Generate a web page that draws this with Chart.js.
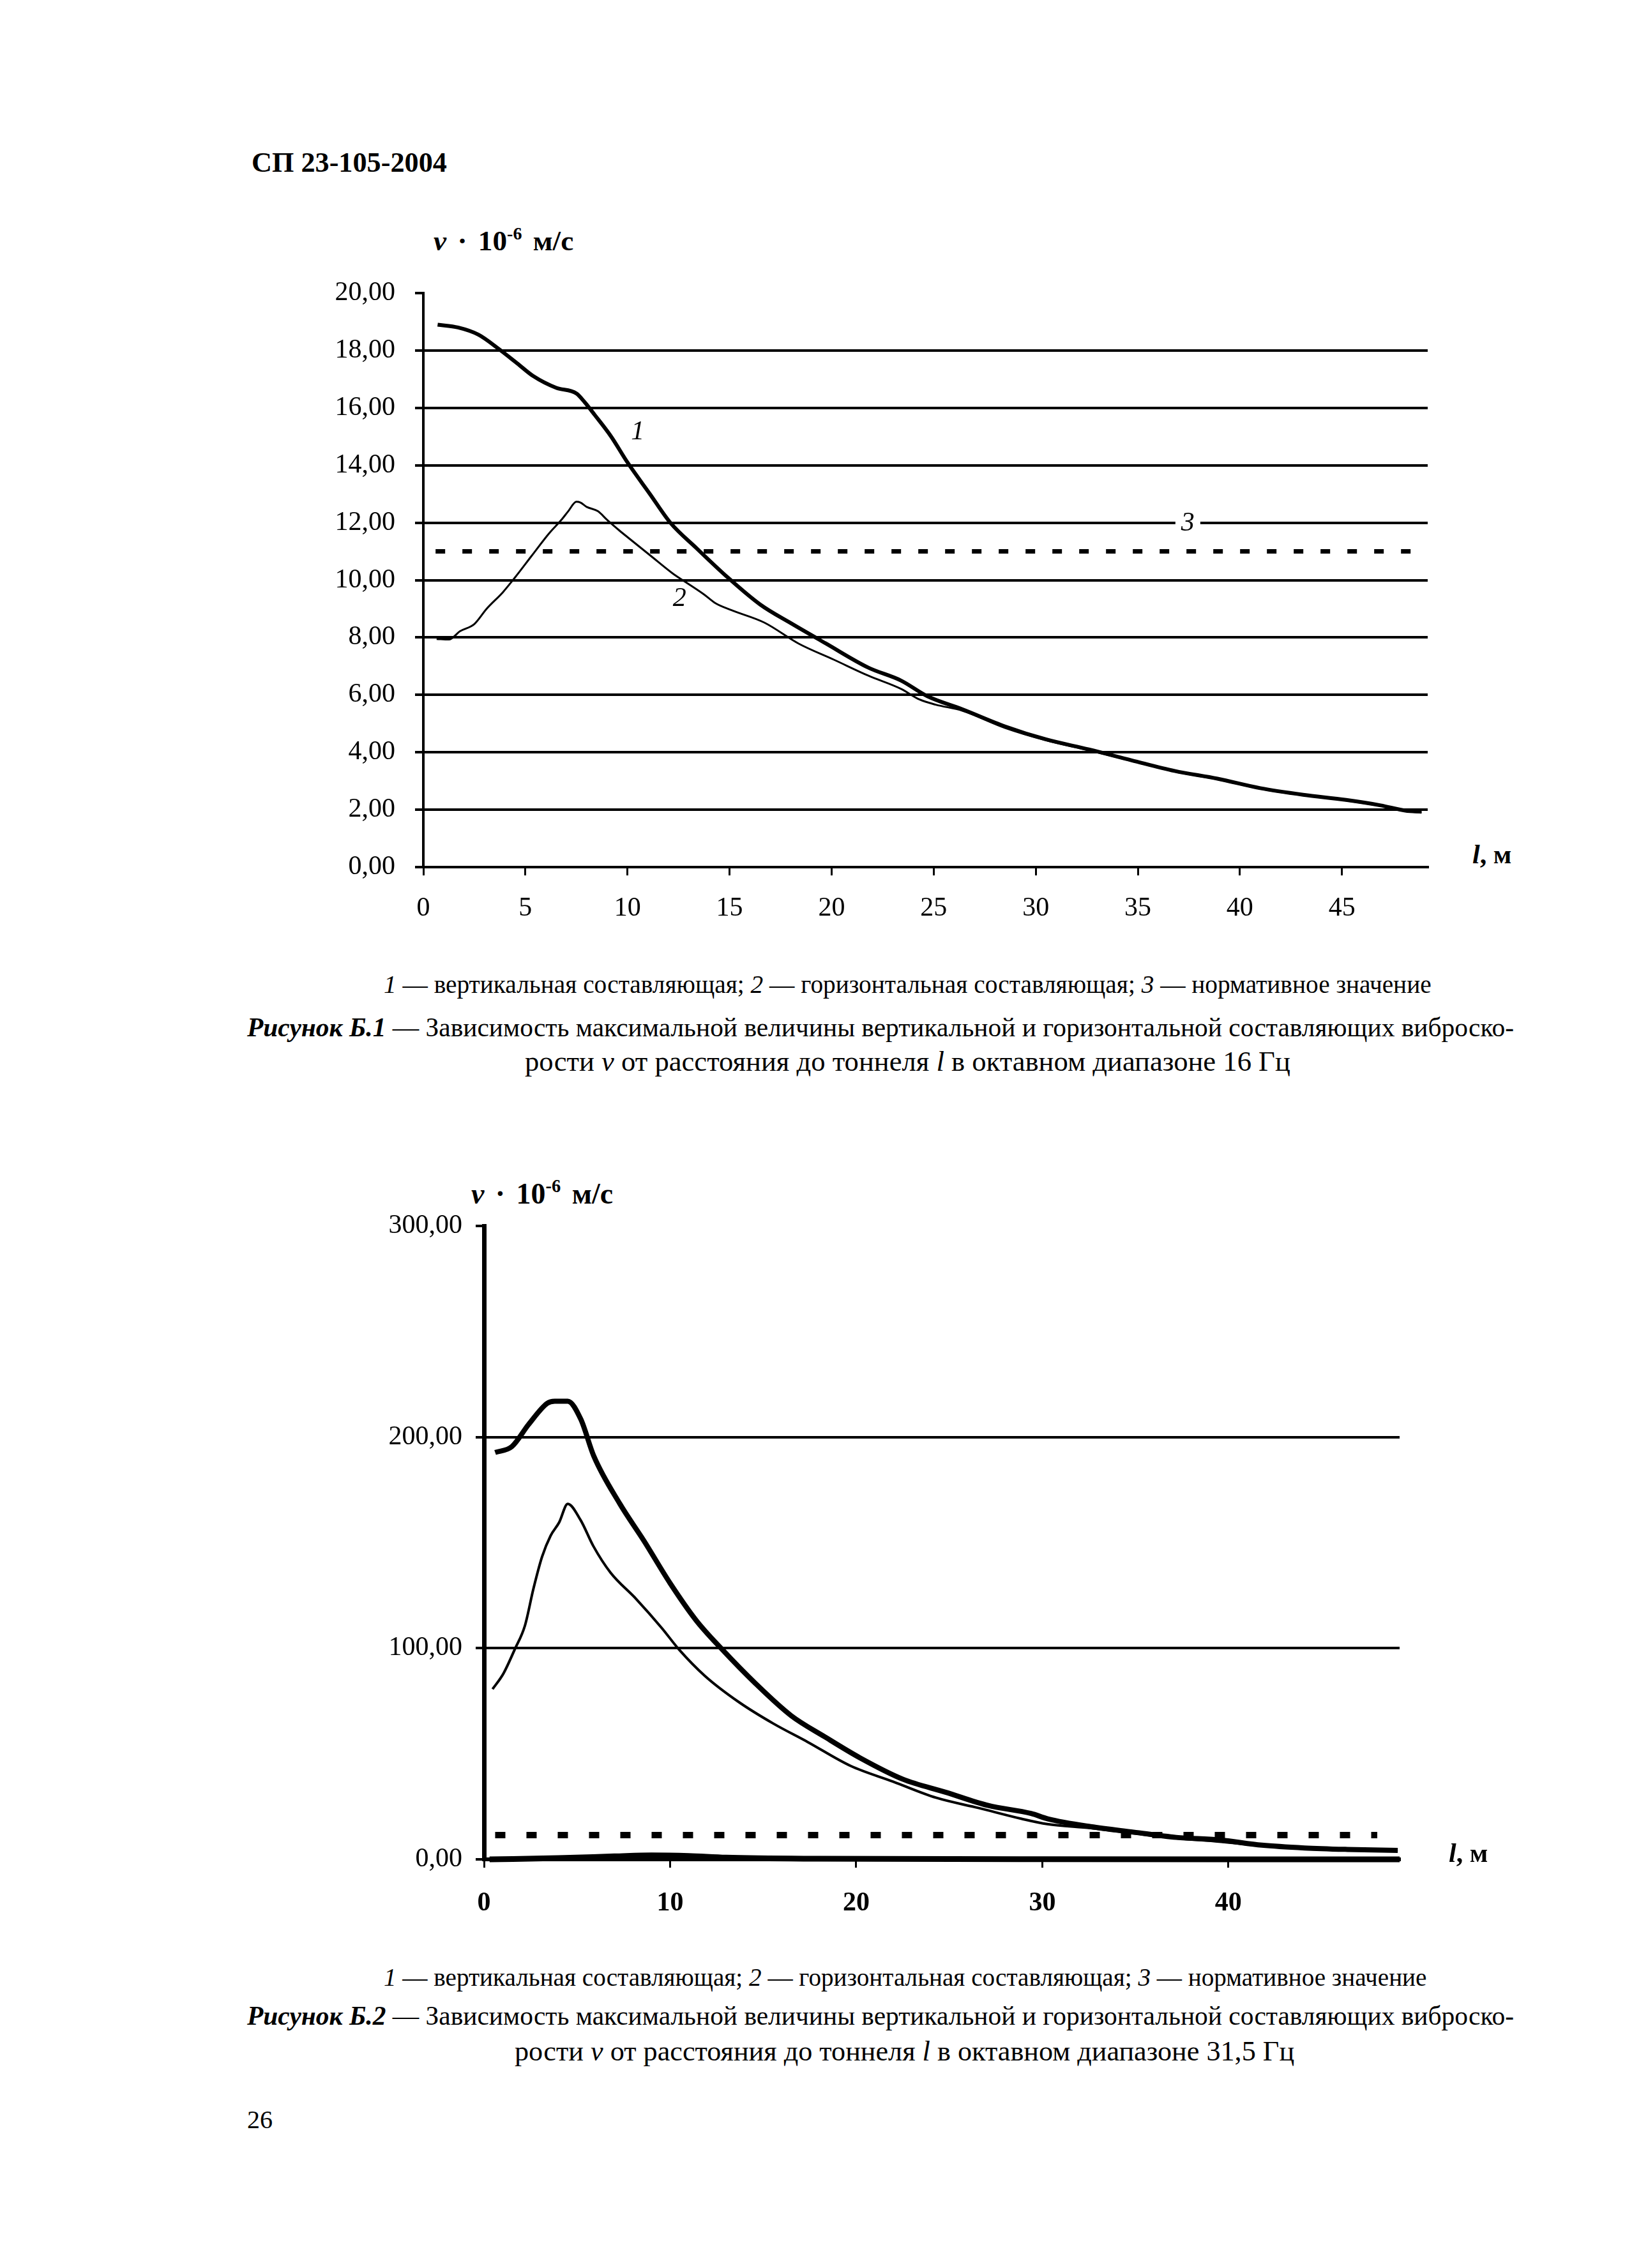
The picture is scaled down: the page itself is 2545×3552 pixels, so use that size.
<!DOCTYPE html>
<html lang="ru">
<head>
<meta charset="utf-8">
<title>СП 23-105-2004 — Рисунки Б.1 и Б.2</title>
<script src="https://cdn.jsdelivr.net/npm/chart.js@4.4.1/dist/chart.umd.min.js"></script>
<style>
    html, body { margin: 0; padding: 0; background: #fff; }
    body {
        width: 2545px; height: 3552px; position: relative; overflow: hidden;
        font-family: 'Liberation Serif', 'Times New Roman', serif; color: #000;
    }
    .t {
        position: absolute; white-space: nowrap; line-height: 1; transform: translateY(-50%);
        font-family: 'Liberation Serif', 'Times New Roman', serif;
    }
    .b { font-weight: bold; }
    .box { position: absolute; }
    sup { font-size: 0.62em; vertical-align: 0.62em; line-height: 0; }
</style>
</head>
<body>

<div class="t b" data-w="306" style="left:394px; top:255px; font-size:45px;">СП 23-105-2004</div>

<!-- Рисунок Б.1 -->
<div class="t b" data-w="219" style="left:679px; top:378px; font-size:46px; word-spacing:6px;"><i>v</i> · 10<sup>-6</sup> м/с</div>
<div class="box" style="left:400px; top:400px; width:1900px; height:1100px;">
    <canvas id="fig1" width="1900" height="1100" style="width:1900px; height:1100px;"></canvas>
</div>
<div class="t b" style="left:2306px; top:1338px; font-size:42px;"><i>l</i>, м</div>
<div class="t" data-w="1641" style="left:601px; top:1543px; font-size:38px;"><i>1</i> — вертикальная составляющая; <i>2</i> — горизонтальная составляющая; <i>3</i> — нормативное значение</div>
<div class="t" data-w="1984" style="left:387px; top:1610px; font-size:44px;"><b><i>Рисунок Б.1</i></b> — Зависимость максимальной величины вертикальной и горизонтальной составляющих виброско-</div>
<div class="t" data-w="1199" style="left:822px; top:1662px; font-size:44px;">рости <i>v</i> от расстояния до тоннеля <i>l</i> в октавном диапазоне 16 Гц</div>

<!-- Рисунок Б.2 -->
<div class="t b" data-w="222" style="left:738px; top:1870px; font-size:46px; word-spacing:6px;"><i>v</i> · 10<sup>-6</sup> м/с</div>
<div class="box" style="left:450px; top:1850px; width:1850px; height:1200px;">
    <canvas id="fig2" width="1850" height="1200" style="width:1850px; height:1200px;"></canvas>
</div>
<div class="t b" style="left:2269px; top:2902px; font-size:42px;"><i>l</i>, м</div>
<div class="t" data-w="1634" style="left:601px; top:3097px; font-size:38px;"><i>1</i> — вертикальная составляющая; <i>2</i> — горизонтальная составляющая; <i>3</i> — нормативное значение</div>
<div class="t" data-w="1984" style="left:387px; top:3158px; font-size:44px;"><b><i>Рисунок Б.2</i></b> — Зависимость максимальной величины вертикальной и горизонтальной составляющих виброско-</div>
<div class="t" data-w="1221" style="left:806px; top:3213px; font-size:44px;">рости <i>v</i> от расстояния до тоннеля <i>l</i> в октавном диапазоне 31,5 Гц</div>

<div class="t" style="left:387px; top:3320px; font-size:40px;">26</div>

<script>
// ---- Рисунок Б.1 (16 Гц) ----
const b1VertX = [0.7, 1.7, 2.7, 3.7, 4.6, 5.4, 6.5, 7.5, 7.9, 8.4, 9.2, 10.0, 11.1, 12.1, 13.4, 14.9, 16.5, 18.0,
                 19.7, 21.8, 23.4, 24.7, 26.4, 28.5, 30.5, 32.6, 34.7, 36.8, 38.9, 41.0, 43.1, 45.2, 46.9, 48.1, 48.9];
const b1VertY = [18.9, 18.8, 18.55, 18.05, 17.55, 17.1, 16.7, 16.5, 16.2, 15.75, 15.0, 14.1, 13.0, 12.0, 11.1, 10.1, 9.15, 8.5,
                 7.8, 6.95, 6.5, 5.95, 5.5, 4.9, 4.45, 4.1, 3.72, 3.35, 3.08, 2.75, 2.52, 2.34, 2.15, 1.97, 1.93];
const b1HorX = [0.65, 1.25, 1.8, 2.5, 3.1, 3.9, 4.5, 5.3, 6.15, 6.8, 7.1, 7.5, 7.7, 8.0, 8.55, 9.0, 9.6, 10.1,
                11.15, 12.2, 12.7, 13.75, 14.3, 15.1, 16.7, 18.4, 20.1, 21.8, 23.4, 24.3, 25.1,
                26.4, 28.5, 30.5, 32.6, 34.7, 36.8, 38.9, 41.0, 43.1, 45.2, 46.9, 48.1, 48.9];
const b1HorY = [7.95, 7.93, 8.22, 8.47, 9.0, 9.58, 10.1, 10.84, 11.62, 12.13, 12.4, 12.73, 12.7, 12.55, 12.4, 12.1, 11.73, 11.44,
                10.84, 10.24, 10.0, 9.5, 9.2, 8.95, 8.52, 7.78, 7.23, 6.67, 6.21, 5.84, 5.66,
                5.45, 4.85, 4.42, 4.07, 3.7, 3.33, 3.06, 2.73, 2.5, 2.32, 2.13, 1.95, 1.9];
const b1NormX = [0.6, 48.4];
const b1NormY = [11, 11];
const b1XTicks = [0, 5, 10, 15, 20, 25, 30, 35, 40, 45];
const b1YTicks = [0, 2, 4, 6, 8, 10, 12, 14, 16, 18, 20];

// ---- Рисунок Б.2 (31,5 Гц) ----
const b2VertX = [0.6, 1.5, 2.4, 3.4, 3.8, 4.5, 5.2, 5.9, 7.3, 8.6, 10.0, 11.4, 12.8, 14.6, 16.5, 18.3, 20.2,
                 22.5, 24.8, 27.1, 29.4, 30.3, 32.6, 34.9, 37.2, 39.5, 41.8, 44.1, 46.4, 49.1];
const b2VertY = [192.7, 195.5, 206, 216, 217, 217, 208.5, 191, 168.4, 150.8, 130.8, 113.2, 99.4, 83.2, 68.1, 58.1, 48.1,
                 38.0, 31.8, 25.5, 21.7, 19.2, 15.5, 12.9, 10.4, 9.2, 6.7, 5.4, 4.7, 4.2];
const b2HorX = [0.46, 1.05, 1.65, 2.2, 2.66, 3.12, 3.58, 4.04, 4.5, 5.19, 5.88, 6.8, 8.18, 9.56, 10.48, 11.87, 13.71,
                15.55, 17.39, 19.69, 21.99, 24.29, 26.59, 28.89, 30.27, 32.6, 34.9, 37.2, 39.5, 41.8, 44.1, 46.4, 49.1];
const b2HorY = [80.6, 88.1, 99.4, 110.7, 128.3, 143.3, 153.3, 159.6, 168.4, 160.7, 148.3, 135.8, 123.3, 109.5, 99.4, 86.9, 74.4,
                64.3, 55.6, 44.3, 36.8, 29.2, 24.3, 19.2, 16.7, 14.8, 12.3, 10.0, 8.4, 6.4, 5.0, 4.4, 3.9];
const b2NormX = [0.6, 48.0];
const b2NormY = [11.5, 11.5];
const b2BaseX = [0.3, 4, 7, 9, 11, 13, 18, 30, 49.2];
const b2BaseY = [0, 0.6, 1.4, 1.9, 1.6, 0.8, 0.3, 0.1, 0];
const b2XTicks = [0, 10, 20, 30, 40];
const b2YTicks = [0, 100, 200, 300];

const FONT = "'Liberation Serif', 'Times New Roman', serif";
const pts = (xs, ys) => xs.map((x, i) => ({ x, y: ys[i] }));
const fmt = v => v.toFixed(2).replace('.', ',');

// подписи кривых 1, 2, 3 на поле графика
const seriesLabels = {
    id: 'seriesLabels',
    afterDatasetsDraw(chart, args, opts) {
        const { ctx, scales: { x, y } } = chart;
        (opts.items || []).forEach(it => {
            const px = x.getPixelForValue(it.x);
            const py = y.getPixelForValue(it.y);
            ctx.save();
            ctx.font = `italic 42px ${FONT}`;
            ctx.textAlign = 'center';
            ctx.textBaseline = 'middle';
            if (it.clear) {
                const w = ctx.measureText(it.text).width + 18;
                ctx.fillStyle = '#fff';
                ctx.fillRect(px - w / 2, py - 6, w, 12);
            }
            ctx.fillStyle = '#000';
            ctx.fillText(it.text, px, py);
            ctx.restore();
        });
    },
};

function line(data, width, extra = {}) {
    return Object.assign({
        data, showLine: true, borderColor: '#000', backgroundColor: '#000',
        borderWidth: width, pointRadius: 0, fill: false,
        cubicInterpolationMode: 'monotone', clip: 10,
    }, extra);
}

function axes(o) {
    return {
        x: {
            type: 'linear', min: 0, max: o.xMax,
            afterFit: s => { s.height = o.xHeight; },
            afterBuildTicks: s => { s.ticks = o.xTicks.map(v => ({ value: v })); },
            grid: { drawOnChartArea: false, drawTicks: true, tickLength: 13, color: '#000', lineWidth: 3 },
            border: { display: true, color: '#000', width: o.xBorder },
            ticks: {
                color: '#000', padding: o.xPad, maxRotation: 0, autoSkip: false,
                font: { family: FONT, size: 42, weight: o.xBold ? 'bold' : 'normal' },
            },
        },
        y: {
            type: 'linear', min: 0, max: o.yMax,
            afterFit: s => { s.width = o.yWidth; },
            afterBuildTicks: s => { s.ticks = o.yTicks.map(v => ({ value: v })); },
            grid: {
                color: c => (c.tick && c.tick.value === o.yMax) ? 'rgba(0,0,0,0)' : '#000',
                tickColor: '#000', lineWidth: 4, tickLength: 13,
            },
            border: { display: true, color: '#000', width: o.yBorder },
            ticks: { color: '#000', padding: o.yPad, callback: fmt, font: { family: FONT, size: 42 } },
        },
    };
}

new Chart(document.getElementById('fig1'), {
    type: 'scatter',
    data: {
        datasets: [
            line(pts(b1VertX, b1VertY), 6),
            line(pts(b1HorX, b1HorY), 3),
            line(pts(b1NormX, b1NormY), 7, { borderDash: [15, 27], cubicInterpolationMode: 'default', tension: 0 }),
        ],
    },
    options: {
        responsive: false, animation: false, events: [],
        layout: { padding: { top: 59, right: 64, bottom: 42, left: 0 } },
        plugins: {
            legend: { display: false }, tooltip: { enabled: false },
            seriesLabels: {
                items: [
                    { text: '1', x: 10.5, y: 15.15 },
                    { text: '2', x: 12.55, y: 9.35 },
                    { text: '3', x: 37.45, y: 11.96, clear: true },
                ],
            },
        },
        scales: axes({
            xMax: 49.2, xTicks: b1XTicks, xHeight: 100, xPad: 27, xBorder: 4, xBold: false,
            yMax: 20, yTicks: b1YTicks, yWidth: 263, yPad: 31, yBorder: 4,
        }),
    },
    plugins: [seriesLabels],
});

new Chart(document.getElementById('fig2'), {
    type: 'scatter',
    data: {
        datasets: [
            line(pts(b2BaseX, b2BaseY), 9),
            line(pts(b2VertX, b2VertY), 8),
            line(pts(b2HorX, b2HorY), 4),
            line(pts(b2NormX, b2NormY), 10, { borderDash: [16, 33], cubicInterpolationMode: 'default', tension: 0 }),
        ],
    },
    options: {
        responsive: false, animation: false, events: [],
        layout: { padding: { top: 70, right: 108, bottom: 38, left: 0 } },
        plugins: { legend: { display: false }, tooltip: { enabled: false } },
        scales: axes({
            xMax: 49.2, xTicks: b2XTicks, xHeight: 100, xPad: 31, xBorder: 6, xBold: true,
            yMax: 300, yTicks: b2YTicks, yWidth: 308, yPad: 21, yBorder: 7,
        }),
    },
});

// подгонка ширины подписей под оригинал
document.querySelectorAll('[data-w]').forEach(el => {
    const target = +el.dataset.w;
    const fs = parseFloat(getComputedStyle(el).fontSize);
    const w = el.getBoundingClientRect().width;
    if (w > 0) el.style.fontSize = (fs * target / w).toFixed(2) + 'px';
});
</script>
</body>
</html>
